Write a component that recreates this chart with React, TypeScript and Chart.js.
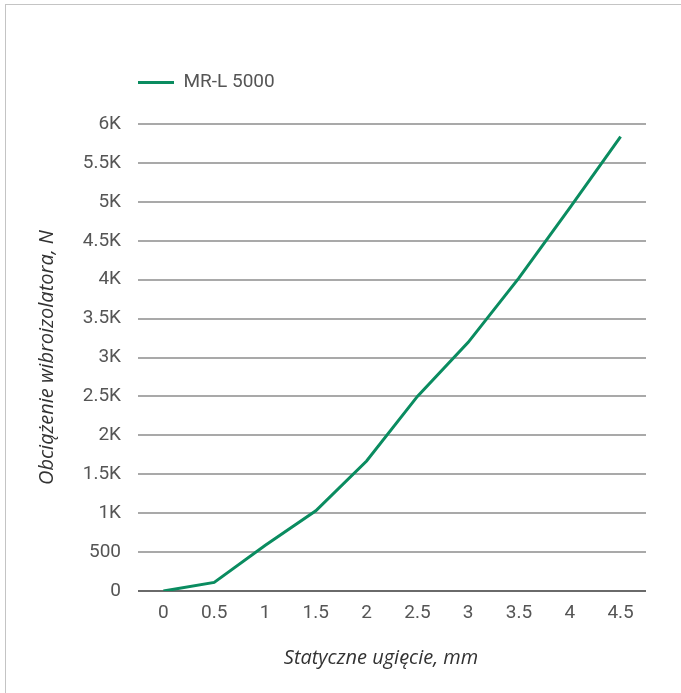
import React, { useEffect, useRef } from "react";
import { Chart, registerables } from "chart.js";

Chart.register(...registerables);

const categories: string[] = ["0", "0.5", "1", "1.5", "2", "2.5", "3", "3.5", "4", "4.5"];
const seriesName = "MR-L 5000";
const loadValues: number[] = [0, 110, 585, 1030, 1670, 2500, 3195, 4023, 4922, 5837];
const yTitle = "Obciążenie wibroizolatora, N";
const xTitle = "Statyczne ugięcie, mm";
const yMin = 0;
const yMax = 6000;
const yStep = 500;

const GREEN = "#0a8c60";
const TICK_COLOR = "#555555";
const TITLE_COLOR = "#333333";
const TICK_FONT = { family: "Roboto", size: 19 };
const TITLE_FONT = { family: "'Open Sans'", size: 20, style: "italic" as const };

const legendSpacer = {
  id: "legendSpacer",
  afterInit(chart: any) {
    const legend = chart.legend;
    if (!legend) return;
    const origFit = legend.fit;
    legend.fit = function fit() {
      origFit.call(legend);
      legend.height += 22;
    };
  },
};

const xTitlePlugin = {
  id: "xTitlePlugin",
  afterDraw(chart: any) {
    const { ctx, chartArea } = chart;
    ctx.save();
    ctx.font = `italic 20px 'Open Sans'`;
    ctx.fillStyle = TITLE_COLOR;
    ctx.textAlign = "center";
    ctx.textBaseline = "middle";
    ctx.fillText(xTitle, (chartArea.left + chartArea.right) / 2 - 11, chartArea.bottom + 67);
    ctx.restore();
  },
};

export default function App() {
  const canvasRef = useRef<HTMLCanvasElement | null>(null);

  useEffect(() => {
    if (!canvasRef.current) return;
    const chart = new Chart(canvasRef.current, {
      type: "line",
      data: {
        labels: categories,
        datasets: [
          {
            label: seriesName,
            data: loadValues,
            borderColor: GREEN,
            backgroundColor: GREEN,
            borderWidth: 3,
            pointRadius: 0,
            pointHoverRadius: 0,
            tension: 0,
            fill: false,
          },
        ],
      },
      options: {
        animation: false,
        responsive: false,
        devicePixelRatio: 1,
        layout: { padding: { top: 68, left: 25, right: 35, bottom: 19 } },
        plugins: {
          legend: {
            display: true,
            position: "top",
            align: "start",
            fullSize: false,
            labels: {
              usePointStyle: true,
              pointStyle: "line",
              pointStyleWidth: 36,
              padding: 0,
              color: TICK_COLOR,
              font: TICK_FONT,
            },
          },
          tooltip: { enabled: false },
          title: { display: false },
        },
        scales: {
          x: {
            type: "category",
            offset: true,
            grid: { display: false, drawTicks: false },
            border: { display: false },
            ticks: { color: TICK_COLOR, font: TICK_FONT, padding: 11, maxRotation: 0 },
            title: { display: false },
            afterFit: (scale: any) => {
              scale.height = 83;
            },
          },
          y: {
            type: "linear",
            min: yMin,
            max: yMax,
            grid: {
              drawTicks: false,
              lineWidth: 2,
              color: (ctx: any) => (ctx.tick && ctx.tick.value === 0 ? "#6a6a6a" : "#a9a9a9"),
            },
            border: { display: false },
            ticks: {
              stepSize: yStep,
              color: TICK_COLOR,
              font: TICK_FONT,
              padding: 17,
              callback: (v: any) => {
                const n = Number(v);
                return n >= 1000 ? `${n / 1000}K` : `${n}`;
              },
            },
            title: {
              display: true,
              text: yTitle,
              color: TITLE_COLOR,
              font: TITLE_FONT,
              padding: { top: 4, bottom: 4 },
            },
            afterFit: (scale: any) => {
              scale.width = 107;
            },
          },
        },
      },
      plugins: [legendSpacer, xTitlePlugin],
    });
    return () => chart.destroy();
  }, []);

  return (
    <div style={{ position: "absolute", left: 0, top: 0, width: 681, height: 693, overflow: "hidden", background: "#fff" }}>
      <div
        style={{
          position: "absolute",
          left: 5,
          top: 4,
          width: 700,
          height: 720,
          border: "1px solid #c4c4c4",
          background: "#fff",
        }}
      >
        <canvas
          ref={canvasRef}
          width={675}
          height={688}
          style={{ position: "absolute", left: 0, top: 0, width: 675, height: 688 }}
        />
      </div>
    </div>
  );
}
